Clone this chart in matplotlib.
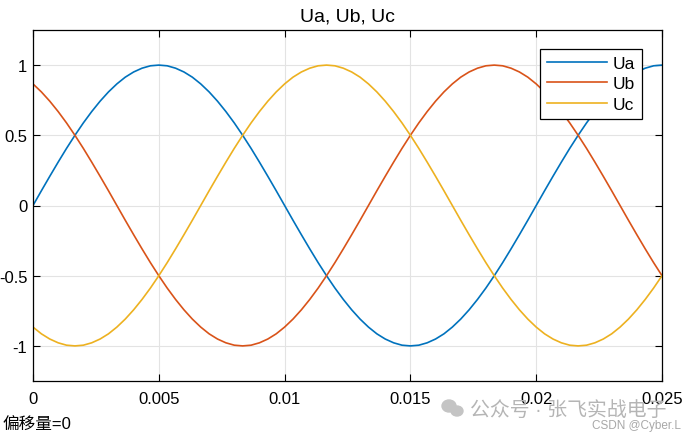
import numpy as np
import matplotlib.pyplot as plt
from matplotlib.patches import Ellipse

plt.rcParams['font.family'] = ['Liberation Sans', 'Noto Sans CJK SC', 'DejaVu Sans']

# sample times (s), 76 samples over 0..0.025
t = np.linspace(0, 0.025, 76)

# values
ua = [0, 0.105, 0.208, 0.309, 0.407, 0.5, 0.588, 0.669, 0.743, 0.809, 0.866, 0.914, 0.951, 0.978, 0.995, 1,
      0.995, 0.978, 0.951, 0.914, 0.866, 0.809, 0.743, 0.669, 0.588, 0.5, 0.407, 0.309, 0.208, 0.105, 0,
      -0.105, -0.208, -0.309, -0.407, -0.5, -0.588, -0.669, -0.743, -0.809, -0.866, -0.914, -0.951, -0.978, -0.995, -1,
      -0.995, -0.978, -0.951, -0.914, -0.866, -0.809, -0.743, -0.669, -0.588, -0.5, -0.407, -0.309, -0.208, -0.105, 0,
      0.105, 0.208, 0.309, 0.407, 0.5, 0.588, 0.669, 0.743, 0.809, 0.866, 0.914, 0.951, 0.978, 0.995, 1]
ub = [0.866, 0.809, 0.743, 0.669, 0.588, 0.5, 0.407, 0.309, 0.208, 0.105, 0,
      -0.105, -0.208, -0.309, -0.407, -0.5, -0.588, -0.669, -0.743, -0.809, -0.866, -0.914, -0.951, -0.978, -0.995, -1,
      -0.995, -0.978, -0.951, -0.914, -0.866, -0.809, -0.743, -0.669, -0.588, -0.5, -0.407, -0.309, -0.208, -0.105, 0,
      0.105, 0.208, 0.309, 0.407, 0.5, 0.588, 0.669, 0.743, 0.809, 0.866, 0.914, 0.951, 0.978, 0.995, 1,
      0.995, 0.978, 0.951, 0.914, 0.866, 0.809, 0.743, 0.669, 0.588, 0.5, 0.407, 0.309, 0.208, 0.105, 0,
      -0.105, -0.208, -0.309, -0.407, -0.5]
uc = [-0.866, -0.914, -0.951, -0.978, -0.995, -1,
      -0.995, -0.978, -0.951, -0.914, -0.866, -0.809, -0.743, -0.669, -0.588, -0.5, -0.407, -0.309, -0.208, -0.105, 0,
      0.105, 0.208, 0.309, 0.407, 0.5, 0.588, 0.669, 0.743, 0.809, 0.866, 0.914, 0.951, 0.978, 0.995, 1,
      0.995, 0.978, 0.951, 0.914, 0.866, 0.809, 0.743, 0.669, 0.588, 0.5, 0.407, 0.309, 0.208, 0.105, 0,
      -0.105, -0.208, -0.309, -0.407, -0.5, -0.588, -0.669, -0.743, -0.809, -0.866, -0.914, -0.951, -0.978, -0.995, -1,
      -0.995, -0.978, -0.951, -0.914, -0.866, -0.809, -0.743, -0.669, -0.588, -0.5]

xticks = [0, 0.005, 0.01, 0.015, 0.02, 0.025]
xticklabels = ['0', '0.005', '0.01', '0.015', '0.02', '0.025']
yticks = [-1, -0.5, 0, 0.5, 1]
yticklabels = ['-1', '-0.5', '0', '0.5', '1']

fig = plt.figure(figsize=(6.9, 4.39), dpi=100)
ax = fig.add_axes([33/690, 1 - 382/439, (662 - 33)/690, (382 - 31)/439])

ax.plot(t, ua, color='#0072BD', lw=1.2, label='Ua')
ax.plot(t, ub, color='#D95319', lw=1.2, label='Ub')
ax.plot(t, uc, color='#EDB120', lw=1.2, label='Uc')

ax.set_xlim(0, 0.025)
ax.set_ylim(-1.25, 1.25)
ax.set_xticks(xticks)
ax.set_xticklabels(xticklabels)
ax.set_yticks(yticks)
ax.set_yticklabels(yticklabels)
ax.tick_params(direction='in', length=5, width=0.8, labelsize=12,
               top=True, right=True)
ax.tick_params(axis='x', pad=7)
ax.tick_params(axis='y', pad=4)
ax.grid(True, color='#e3e3e3', lw=0.8)
ax.set_axisbelow(True)
for s in ax.spines.values():
    s.set_linewidth(0.9)
ax.set_title('Ua, Ub, Uc', fontsize=14, pad=7)

leg = ax.legend(loc='upper right', bbox_to_anchor=(642/690, 1 - 50/439),
                bbox_transform=fig.transFigure, fontsize=12.5, fancybox=False,
                framealpha=1, edgecolor='black', borderaxespad=0,
                handlelength=3.5, handletextpad=0.3, labelspacing=0.3,
                borderpad=0.4)
leg.get_frame().set_linewidth(0.9)

fig.text(3/690, 1 - 424/439, '偏移量=0', fontsize=12, va='center', ha='left')

# watermark
fig.text(470/690, 1 - 410/439, '公众号 · 张飞实战电子', fontsize=14.3,
         color='#b5b5b5', va='center', ha='left')
fig.text(681/690, 1 - 426/439, 'CSDN @Cyber.L', fontsize=8.5,
         color='#a8a8a8', va='center', ha='right')
fig.patches.append(Ellipse((449/690, 1 - 407/439), 14/690, 12/439,
                           transform=fig.transFigure, color='#c4c4c4'))
fig.patches.append(Ellipse((457/690, 1 - 412/439), 12/690, 10/439,
                           transform=fig.transFigure, color='#c4c4c4'))

fig.savefig('out.png', dpi=100)
